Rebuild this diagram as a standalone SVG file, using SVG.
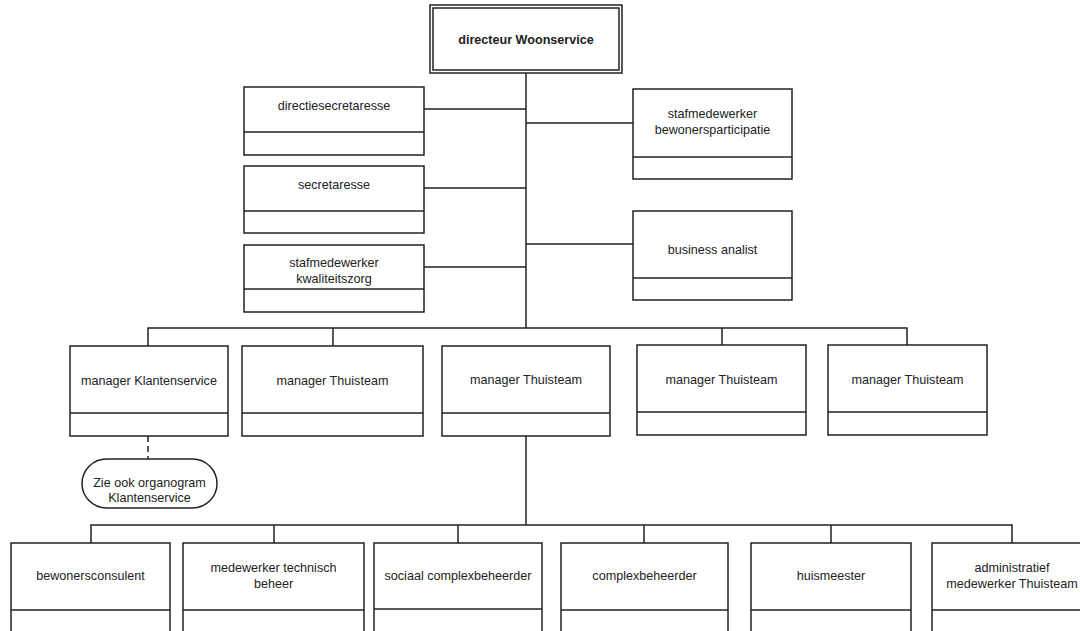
<svg xmlns="http://www.w3.org/2000/svg" width="1080" height="631" viewBox="0 0 1080 631">
<style>
.box{fill:#fff;stroke:#222;stroke-width:1.5}
.div{stroke:#222;stroke-width:1.5}
.ln{stroke:#222;stroke-width:1.5;fill:none}
.t{font-family:"Liberation Sans",Arial,sans-serif;font-size:12.6px;fill:#222;text-anchor:middle}
.b{font-weight:bold}
</style>
<rect width="1080" height="631" fill="#fff"/>
<g id="connectors">
<path class="ln" d="M526 73V328M526 436V525"/>
<path class="ln" d="M424 109H526M424 188H526M424 267H526"/>
<path class="ln" d="M526 123H633M526 244H633"/>
<path class="ln" d="M148 346V328H907V346M333 328V346M722 328V346"/>
<path class="ln" d="M148 436V459" stroke-dasharray="6,4"/>
<path class="ln" d="M91 543V525H1012V543M274 525V543M458 525V543M644 525V543M831 525V543"/>
</g>
<g id="director">
<rect class="box" x="430" y="5" width="192" height="68"/>
<rect class="box" x="433" y="8" width="186" height="62"/>
<text class="t b" x="526" y="44">directeur Woonservice</text>
</g>
<g id="directiesecretaresse">
<rect class="box" x="244" y="87" width="180" height="68"/>
<line class="div" x1="244" y1="132" x2="424" y2="132"/>
<text class="t" x="334" y="109.5">directiesecretaresse</text>
</g>
<g id="secretaresse">
<rect class="box" x="244" y="166" width="180" height="67"/>
<line class="div" x1="244" y1="211" x2="424" y2="211"/>
<text class="t" x="334" y="188.5">secretaresse</text>
</g>
<g id="kwaliteitszorg">
<rect class="box" x="244" y="245" width="180" height="67"/>
<line class="div" x1="244" y1="289" x2="424" y2="289"/>
<text class="t" x="334" y="267">stafmedewerker</text>
<text class="t" x="334" y="282.5">kwaliteitszorg</text>
</g>
<g id="bewonersparticipatie">
<rect class="box" x="633" y="89" width="159" height="90"/>
<line class="div" x1="633" y1="157" x2="792" y2="157"/>
<text class="t" x="712.5" y="117.5">stafmedewerker</text>
<text class="t" x="712.5" y="133.5">bewonersparticipatie</text>
</g>
<g id="businessanalist">
<rect class="box" x="633" y="211" width="159" height="89"/>
<line class="div" x1="633" y1="278" x2="792" y2="278"/>
<text class="t" x="712.5" y="254">business analist</text>
</g>
<g id="mgr-klantenservice">
<rect class="box" x="70" y="346" width="158" height="90"/>
<line class="div" x1="70" y1="413" x2="228" y2="413"/>
<text class="t" x="149" y="385">manager Klantenservice</text>
</g>
<g id="mgr-thuisteam-1">
<rect class="box" x="242" y="346" width="181" height="90"/>
<line class="div" x1="242" y1="413" x2="423" y2="413"/>
<text class="t" x="332.5" y="385">manager Thuisteam</text>
</g>
<g id="mgr-thuisteam-2">
<rect class="box" x="442" y="346" width="168" height="90"/>
<line class="div" x1="442" y1="413" x2="610" y2="413"/>
<text class="t" x="526" y="384">manager Thuisteam</text>
</g>
<g id="mgr-thuisteam-3">
<rect class="box" x="637" y="345" width="169" height="90"/>
<line class="div" x1="637" y1="412" x2="806" y2="412"/>
<text class="t" x="721.5" y="384">manager Thuisteam</text>
</g>
<g id="mgr-thuisteam-4">
<rect class="box" x="828" y="345" width="159" height="90"/>
<line class="div" x1="828" y1="412" x2="987" y2="412"/>
<text class="t" x="907.5" y="384">manager Thuisteam</text>
</g>
<g id="zie-ook">
<rect class="box" x="82" y="459" width="135" height="49" rx="24.5" ry="24.5"/>
<text class="t" x="149.5" y="487">Zie ook organogram</text>
<text class="t" x="149.5" y="502">Klantenservice</text>
</g>
<g id="bewonersconsulent">
<rect class="box" x="11" y="543" width="159" height="110"/>
<line class="div" x1="11" y1="610" x2="170" y2="610"/>
<text class="t" x="90.5" y="580">bewonersconsulent</text>
</g>
<g id="technisch-beheer">
<rect class="box" x="183" y="543" width="181" height="110"/>
<line class="div" x1="183" y1="610" x2="364" y2="610"/>
<text class="t" x="273.5" y="572">medewerker technisch</text>
<text class="t" x="273.5" y="588">beheer</text>
</g>
<g id="sociaal-complexbeheerder">
<rect class="box" x="374" y="543" width="168" height="110"/>
<line class="div" x1="374" y1="609" x2="542" y2="609"/>
<text class="t" x="458" y="579.5">sociaal complexbeheerder</text>
</g>
<g id="complexbeheerder">
<rect class="box" x="561" y="543" width="167" height="110"/>
<line class="div" x1="561" y1="610" x2="728" y2="610"/>
<text class="t" x="644.5" y="580">complexbeheerder</text>
</g>
<g id="huismeester">
<rect class="box" x="751" y="543" width="160" height="110"/>
<line class="div" x1="751" y1="610" x2="911" y2="610"/>
<text class="t" x="831" y="580">huismeester</text>
</g>
<g id="administratief">
<rect class="box" x="932" y="543" width="160" height="110"/>
<line class="div" x1="932" y1="610" x2="1092" y2="610"/>
<text class="t" x="1012" y="572">administratief</text>
<text class="t" x="1012" y="588">medewerker Thuisteam</text>
</g>
</svg>
